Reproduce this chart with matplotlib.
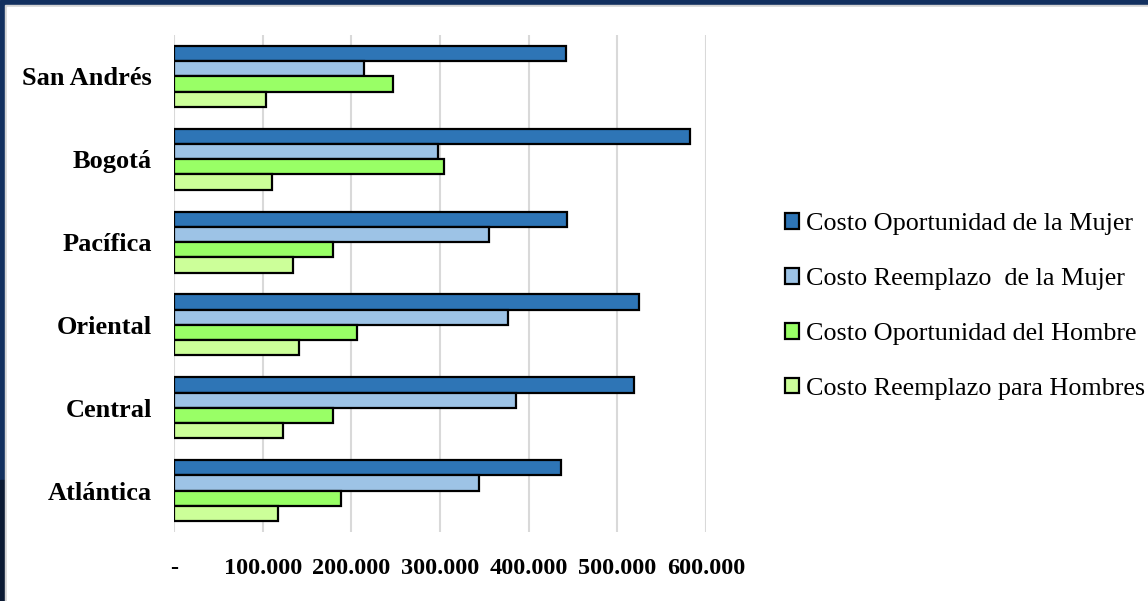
#!/usr/bin/env python3
"""
Costos por region - barras horizontales agrupadas
"""

import matplotlib
matplotlib.use('Agg')
import matplotlib.pyplot as plt
from matplotlib.patches import Rectangle
import numpy as np

regions = ['Atlántica', 'Central', 'Oriental', 'Pacífica', 'Bogotá', 'San Andrés']
series_names = ['Costo Oportunidad de la Mujer', 'Costo Reemplazo  de la Mujer',
                'Costo Oportunidad del Hombre', 'Costo Reemplazo para Hombres']
oportunidad_mujer = [437000, 519000, 524000, 443000, 582000, 442000]
reemplazo_mujer = [344000, 386000, 377000, 355000, 298000, 214000]
oportunidad_hombre = [188000, 179000, 206000, 179000, 305000, 247000]
reemplazo_hombre = [117000, 123000, 141000, 134000, 110000, 104000]
x_ticks = [0, 100000, 200000, 300000, 400000, 500000, 600000]
x_tick_labels = ['-', '100.000', '200.000', '300.000', '400.000', '500.000', '600.000']

colors = ['#2e75b6', '#9dc3e6', '#99ff66', '#ccff99']

W, H = 1148, 601
fig = plt.figure(figsize=(W / 100, H / 100), dpi=100, facecolor='white')

# marco oscuro de la diapositiva
fig.patches.append(Rectangle((0, 0), 1, 1, transform=fig.transFigure, color='#12305f', zorder=-10))
fig.patches.append(Rectangle((0, 0), 5 / W, 1 - 480 / H, transform=fig.transFigure, color='#0b1a33', zorder=-9))
fig.patches.append(Rectangle((5 / W, 0), 1, 1 - 5 / H, transform=fig.transFigure, color='#d4d4d4', zorder=-8))
fig.patches.append(Rectangle((7 / W, 0), 1, 1 - 7 / H, transform=fig.transFigure, color='white', zorder=-7))

ax = fig.add_axes([174 / W, 1 - 532 / H, (706 - 174) / W, (532 - 35) / H])
ax.set_facecolor('none')

y = np.arange(len(regions))
h = 0.184
all_series = [oportunidad_mujer, reemplazo_mujer, oportunidad_hombre, reemplazo_hombre]
offsets = [1.5 * h, 0.5 * h, -0.5 * h, -1.5 * h]
for vals, off, col, name in zip(all_series, offsets, colors, series_names):
    ax.barh(y + off, vals, height=h, color=col, edgecolor='black', linewidth=1.6,
            label=name, zorder=3)

ax.set_xlim(0, 600000)
ax.set_ylim(-0.5, len(regions) - 0.5)
ax.set_xticks(x_ticks)
ax.set_xticklabels(x_tick_labels, fontfamily='Liberation Serif', fontweight='bold', fontsize=17.5)
ax.set_yticks(y)
ax.set_yticklabels(regions, fontfamily='Liberation Serif', fontweight='bold', fontsize=19)
ax.tick_params(axis='x', length=0, pad=19)
ax.tick_params(axis='y', length=0, pad=16)
ax.grid(True, axis='x', color='#d9d9d9', linewidth=1.5, zorder=0)
for s in ax.spines.values():
    s.set_visible(False)

fig.legend(loc='center left', bbox_to_anchor=(785 / W, 1 - 306.5 / H), frameon=False,
           prop={'family': 'Liberation Serif', 'size': 18.8}, handlelength=0.55,
           handleheight=0.55, handletextpad=0.25, labelspacing=1.25, borderpad=0,
           borderaxespad=0)

plt.savefig('out.png', dpi=100)
plt.close()
